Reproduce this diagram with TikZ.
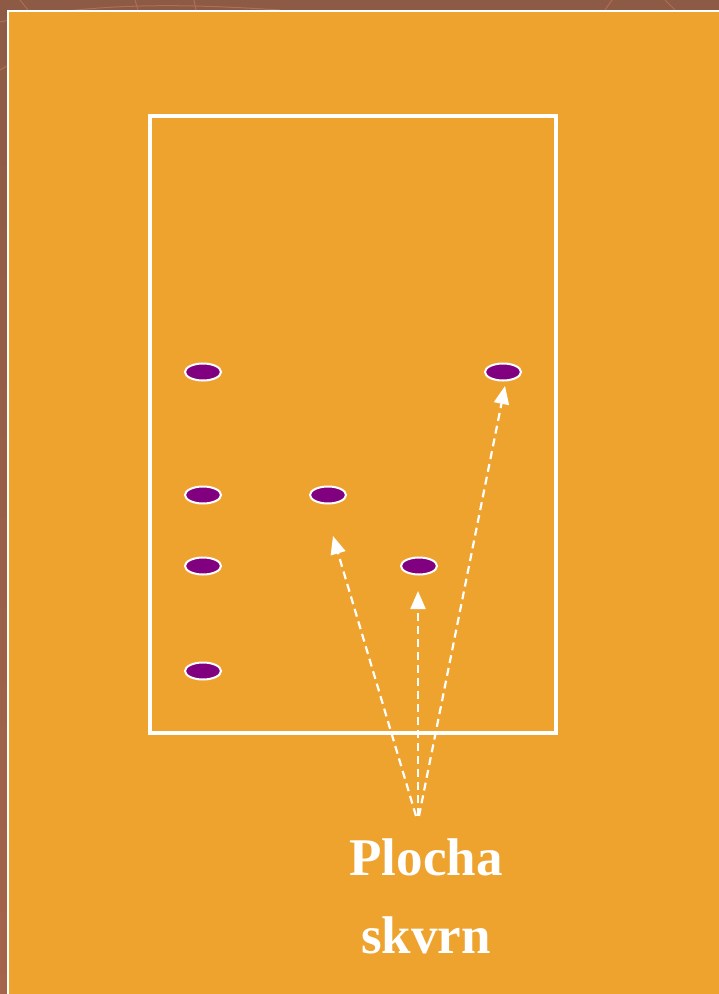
\documentclass[tikz,border=0pt]{standalone}
\usepackage{fontspec}
\setmainfont{Liberation Serif}
\usetikzlibrary{shapes.geometric,arrows.meta}
\definecolor{bgbrown}{HTML}{8C5A45}
\definecolor{bgbrown2}{HTML}{A4634B}
\definecolor{panel}{HTML}{EFA32F}
\definecolor{spot}{HTML}{800080}
\definecolor{patt}{HTML}{B06E55}
\tikzset{
  spotnode/.style={ellipse, fill=spot, draw=white, line width=2pt, minimum width=36pt, minimum height=17pt, inner sep=0pt},
  arrowline/.style={white, line width=2.2pt, dash pattern=on 8pt off 5pt, -{Triangle[length=18pt,width=15pt]}},
  label/.style={text=white, font=\bfseries\fontsize{53}{78}\selectfont, align=center}
}
\begin{document}
\begin{tikzpicture}[x=1pt,y=-1pt]
\useasboundingbox (0,0) rectangle (719,994);
\shade[top color=bgbrown, bottom color=bgbrown2] (0,0) rectangle (719,994);
\draw[patt, line width=1pt] (0,22) .. controls (100,0) and (200,5) .. (280,10);
\draw[patt, line width=1pt] (20,0) -- (28,10);
\draw[patt, line width=1pt] (135,0) -- (138,10);
\draw[patt, line width=1pt] (194,0) -- (196,10);
\draw[patt, line width=1pt] (605,10) -- (612,0);
\draw[patt, line width=1pt] (665,0) -- (675,10);
\draw[patt, line width=1pt] (0,70) -- (7,66);
\fill[panel] (7,10) rectangle (719,994);
\draw[white, line width=2.5pt] (8,994) -- (8,11) -- (719,11);
\draw[white, line width=3.5pt] (150,116) rectangle (556,733);
\node[spotnode] (s1) at (203,372) {};
\node[spotnode] (s2) at (503,372) {};
\node[spotnode] (s3) at (203,495) {};
\node[spotnode] (s4) at (328,495) {};
\node[spotnode] (s5) at (203,566) {};
\node[spotnode] (s6) at (419,566) {};
\node[spotnode] (s7) at (203,671) {};
\coordinate (o1) at (416,816);
\coordinate (o2) at (418,816);
\coordinate (o3) at (419,816);
\coordinate (t1) at (333,536);
\coordinate (t2) at (418,591);
\coordinate (t3) at (505,386);
\draw[arrowline] (o1) -- (t1);
\draw[arrowline] (o2) -- (t2);
\draw[arrowline] (o3) -- (t3);
\node[label] (lab) at (426,896) {Plocha\\skvrn};
\end{tikzpicture}
\end{document}
